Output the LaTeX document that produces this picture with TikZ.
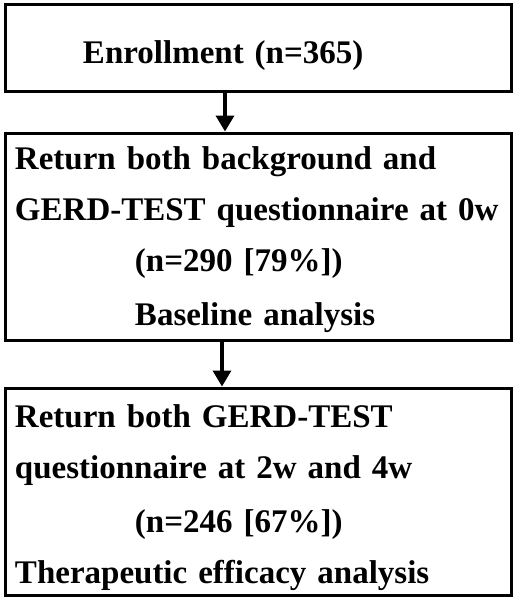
\documentclass[tikz,border=0pt]{standalone}
\usepackage{fontspec}
\setmainfont{Liberation Serif}
\usepackage{tikz}
\usetikzlibrary{arrows.meta}

\begin{document}
\begin{tikzpicture}[x=1pt, y=-1pt, line width=3pt,
        box_style/.style={rectangle,draw=black,minimum width=506pt,text width=494pt,inner xsep=6pt,inner ysep=0pt,align=left,font=\fontsize{33}{51}\selectfont\bfseries},
        arrow_style/.style={draw=black, line width=3.5pt, -{Triangle[length=16pt,width=18pt]}}]

        \useasboundingbox (0,0) rectangle (515,598);

        \node [box_style,minimum height=87pt,text height=38pt,text depth=7pt](n1) at (258,47.5) {\hspace*{72pt}Enrollment (n=365)};

        \node [box_style,minimum height=207pt](n2) at (258,236.5) {\rule{0pt}{29pt}\hspace*{4pt}Return both background and\\
        \hspace*{4pt}GERD-TEST questionnaire at 0w\\
        \hspace*{124pt}(n=290 [79\%])\\[3pt]
        \hspace*{124pt}Baseline analysis};

        \node [box_style,minimum height=207pt](n3) at (258,491.5) {\rule{0pt}{35pt}\hspace*{4pt}Return both GERD-TEST\\
        \hspace*{4pt}questionnaire at 2w and 4w\\[3pt]
        \hspace*{124pt}(n=246 [67\%])\\
        \hspace*{4pt}Therapeutic efficacy analysis};

        \draw [arrow_style] ([xshift=-33pt]n1.south) -- ([xshift=-33pt]n2.north);

        \draw [arrow_style] ([xshift=-36pt]n2.south) -- ([xshift=-36pt]n3.north);

        \end{tikzpicture}
\end{document}
